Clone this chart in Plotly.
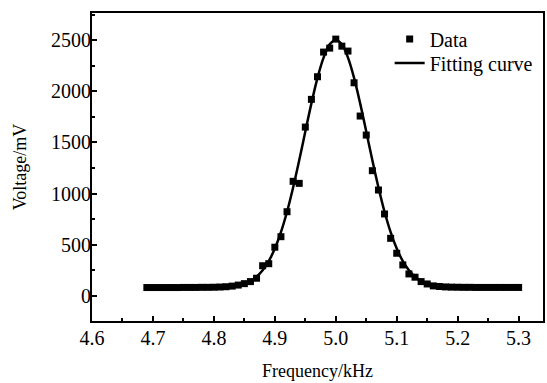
import plotly.graph_objects as go

# Frequency grid (kHz) and measured voltages (mV)
freq = [round(4.69 + 0.01 * i, 2) for i in range(62)]
data_mv = [82, 82, 82, 82, 82, 82, 83, 83, 83, 84, 84, 85, 87, 90,
           96, 106, 120, 140, 173, 295, 315, 476, 579, 823, 1120, 1100,
           1650, 1921, 2142, 2383, 2422, 2510, 2441, 2393, 2083, 1758,
           1572, 1224, 1035, 801, 563, 417, 303, 215, 183, 140, 117, 98,
           92, 88, 86, 85, 84, 84, 83, 83, 83, 83, 83, 83, 83, 83]
fit_mv = [82, 82, 82, 82, 82, 82, 82, 82, 82, 83, 83, 84, 85,
          88, 94, 103, 120, 147, 188, 251, 340, 463, 623, 823, 1060,
          1325, 1606, 1882, 2131, 2329, 2458, 2502, 2458, 2329, 2131,
          1882, 1606, 1325, 1060, 823, 623, 463, 340, 251, 188, 147, 120,
          103, 94, 88, 85, 84, 83, 83, 82, 82, 82, 82, 82, 82, 82, 82]
fit_freq = freq

x_ticks = [4.6, 4.7, 4.8, 4.9, 5.0, 5.1, 5.2, 5.3]
x_tick_text = ["4.6", "4.7", "4.8", "4.9", "5.0", "5.1", "5.2", "5.3"]
y_ticks = [0, 500, 1000, 1500, 2000, 2500]

FONT = "Liberation Serif, Times New Roman, serif"
TICK_SIZE = 20
TITLE_SIZE = 18
LEG_SIZE = 20

fig = go.Figure()
fig.add_trace(go.Scatter(
    x=freq, y=data_mv, mode="markers", name="Data", legend="legend",
    showlegend=True,
    marker=dict(symbol="square", size=7, color="black"),
))
fig.add_trace(go.Scatter(
    x=fit_freq, y=fit_mv, mode="lines", name="Fitting curve", legend="legend2",
    showlegend=True,
    line=dict(color="black", width=2.5, shape="spline"),
))

axis_common = dict(
    showline=True, linecolor="black", linewidth=2, mirror=True,
    ticks="inside", ticklen=5, tickwidth=2, tickcolor="black",
    showgrid=False, zeroline=False,
    tickfont=dict(family=FONT, size=TICK_SIZE, color="black"),
)

fig.update_xaxes(
    range=[4.6, 5.34], tickvals=x_ticks, ticktext=x_tick_text,
    title=dict(text="Frequency/kHz", font=dict(family=FONT, size=TITLE_SIZE, color="black"), standoff=16),
    minor=dict(ticks="inside", ticklen=3, tickwidth=2, tickcolor="black", dtick=0.05, showgrid=False),
    ticklabelstandoff=-2,
    **axis_common,
)
fig.update_yaxes(
    range=[-245, 2765], tickvals=y_ticks,
    title=dict(text="Voltage/mV", font=dict(family=FONT, size=TITLE_SIZE, color="black"), standoff=20),
    minor=dict(ticks="inside", ticklen=3, tickwidth=2, tickcolor="black", dtick=250, showgrid=False),
    ticklabelstandoff=-5,
    **axis_common,
)

leg_common = dict(
    xanchor="left", yanchor="middle",
    bgcolor="rgba(0,0,0,0)", borderwidth=0,
    font=dict(family=FONT, size=LEG_SIZE, color="black"),
    itemwidth=30,
)

fig.update_layout(
    width=547, height=383,
    margin=dict(l=92, r=2, t=13, b=62),
    paper_bgcolor="white", plot_bgcolor="white",
    showlegend=True,
    font=dict(family=FONT, size=TICK_SIZE, color="black"),
    legend=dict(x=0.66, y=(321 - 39) / 308, **leg_common),
    legend2=dict(x=0.66, y=(321 - 63) / 308, **leg_common),
)

fig.write_html("out.html")
